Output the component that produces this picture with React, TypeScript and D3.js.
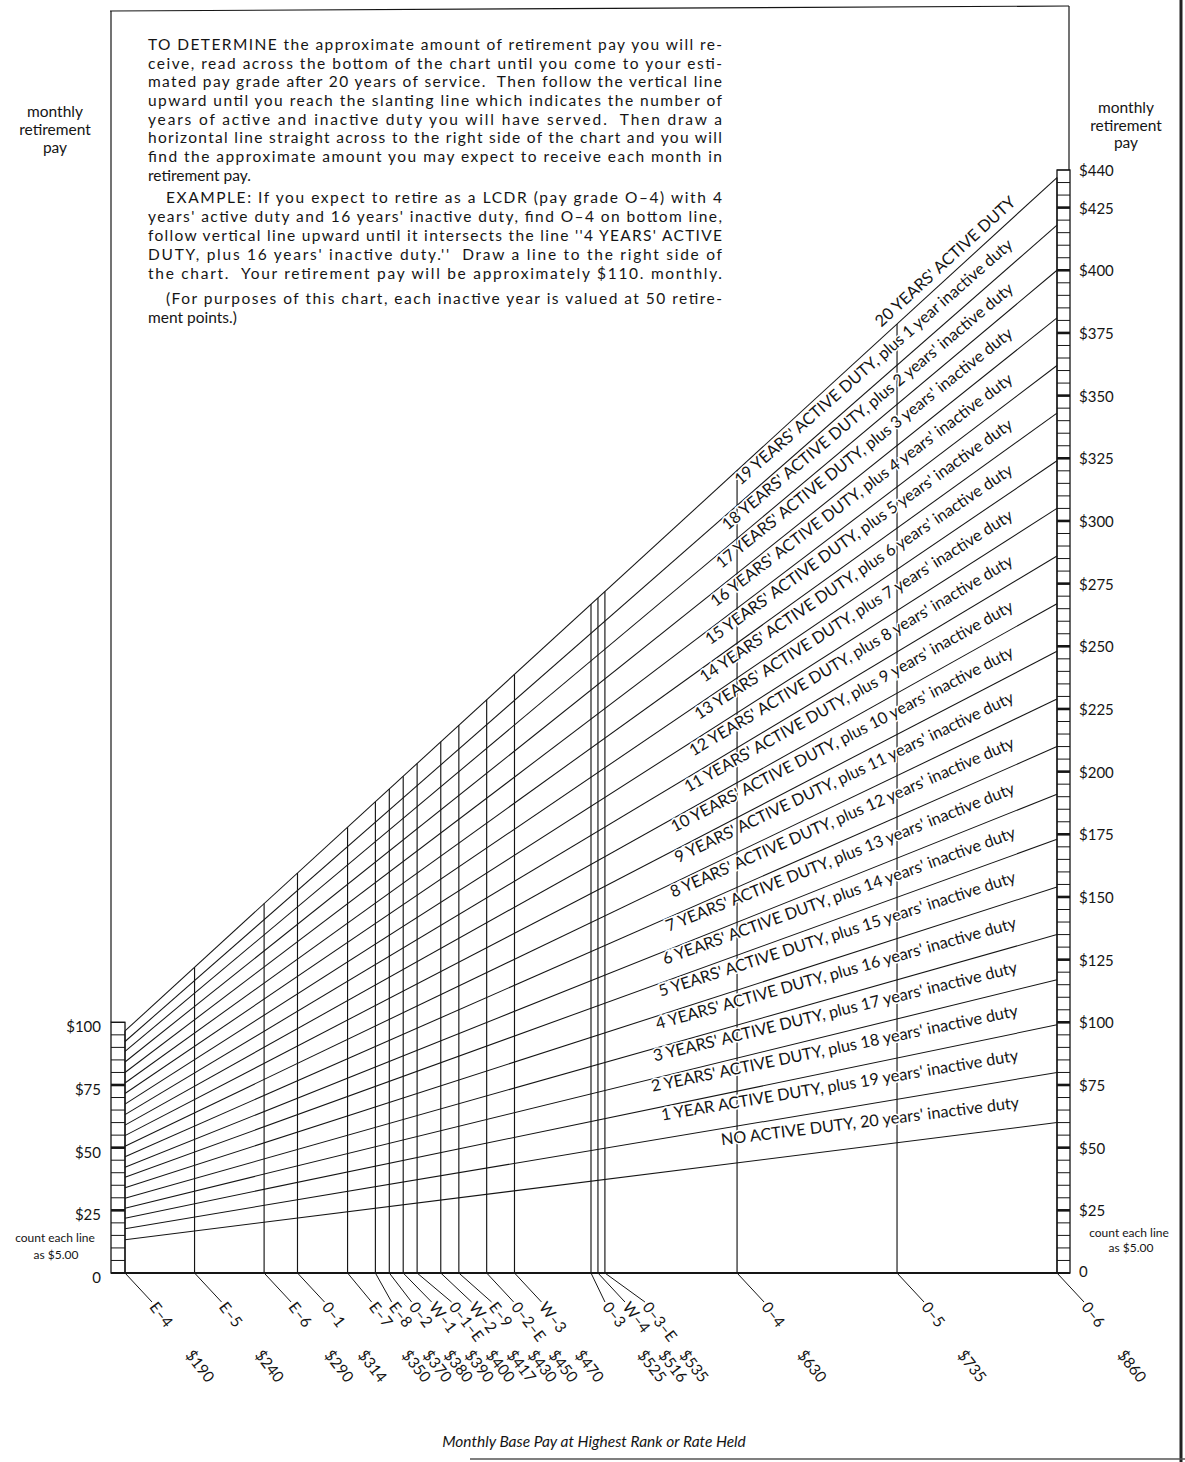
import React from "react";
import * as d3 from "d3";

// ---------- data ----------
const grades = ["E–4", "E–5", "E–6", "0–1", "E–7", "E–8", "0–2", "W–1", "0–1–E", "W–2", "E–9", "0–2–E", "W–3", "0–3", "W–4", "0–3–E", "0–4", "0–5", "0–6"];
const payLabels = ["$190", "$240", "$290", "$314", "$350", "$370", "$380", "$390", "$400", "$417", "$430", "$450", "$470", "$525", "$516", "$535", "$630", "$735", "$860"];
// base pay position of each grade line
const gradePay = [190, 240, 290, 314, 350, 370, 380, 390, 400, 417, 430, 450, 470, 525, 530, 535, 630, 745, 860];

// years of active duty for each slanting line (rest of 20 years inactive)
const activeYears = [0, 1, 2, 3, 4, 5, 6, 7, 8, 9, 10, 11, 12, 13, 14, 15, 16, 17, 18, 19, 20];
// monthly retirement pay read at the right edge ($860 base pay)
const payAtTopBase = [60, 80, 99, 117, 135, 154, 173, 191, 210, 229, 248, 267, 286, 305, 324, 343, 362, 381, 400, 418, 437];
const lineLabels = [
  "NO ACTIVE DUTY, 20 years' inactive duty",
  "1 YEAR ACTIVE DUTY, plus 19 years' inactive duty",
  "2 YEARS' ACTIVE DUTY, plus 18 years' inactive duty",
  "3 YEARS' ACTIVE DUTY, plus 17 years' inactive duty",
  "4 YEARS' ACTIVE DUTY, plus 16 years' inactive duty",
  "5 YEARS' ACTIVE DUTY, plus 15 years' inactive duty",
  "6 YEARS' ACTIVE DUTY, plus 14 years' inactive duty",
  "7 YEARS' ACTIVE DUTY, plus 13 years' inactive duty",
  "8 YEARS' ACTIVE DUTY, plus 12 years' inactive duty",
  "9 YEARS' ACTIVE DUTY, plus 11 years' inactive duty",
  "10 YEARS' ACTIVE DUTY, plus 10 years' inactive duty",
  "11 YEARS' ACTIVE DUTY, plus 9 years' inactive duty",
  "12 YEARS' ACTIVE DUTY, plus 8 years' inactive duty",
  "13 YEARS' ACTIVE DUTY, plus 7 years' inactive duty",
  "14 YEARS' ACTIVE DUTY, plus 6 years' inactive duty",
  "15 YEARS' ACTIVE DUTY, plus 5 years' inactive duty",
  "16 YEARS' ACTIVE DUTY, plus 4 years' inactive duty",
  "17 YEARS' ACTIVE DUTY, plus 3 years' inactive duty",
  "18 YEARS' ACTIVE DUTY, plus 2 years' inactive duty",
  "19 YEARS' ACTIVE DUTY, plus 1 year inactive duty",
  "20 YEARS' ACTIVE DUTY",
];

const leftTicks = [0, 25, 50, 75, 100];
const leftTickLabels = ["0", "$25", "$50", "$75", "$100"];
const rightTicks = [0, 25, 50, 75, 100, 125, 150, 175, 200, 225, 250, 275, 300, 325, 350, 375, 400, 425, 440];
const rightTickLabels = ["0", "$25", "$50", "$75", "$100", "$125", "$150", "$175", "$200", "$225", "$250", "$275", "$300", "$325", "$350", "$375", "$400", "$425", "$440"];

const instructionLines = [
  { t: "TO DETERMINE the approximate amount of retirement pay you will re-", indent: false, justify: true },
  { t: "ceive, read across the bottom of the chart until you come to your esti-", indent: false, justify: true },
  { t: "mated pay grade after 20 years of service.  Then follow the vertical line", indent: false, justify: true },
  { t: "upward until you reach the slanting line which indicates the number of", indent: false, justify: true },
  { t: "years of active and inactive duty you will have served.  Then draw a", indent: false, justify: true },
  { t: "horizontal line straight across to the right side of the chart and you will", indent: false, justify: true },
  { t: "find the approximate amount you may expect to receive each month in", indent: false, justify: true },
  { t: "retirement pay.", indent: false, justify: false },
  { t: "EXAMPLE: If you expect to retire as a LCDR (pay grade O–4) with 4", indent: true, justify: true },
  { t: "years' active duty and 16 years' inactive duty, find O–4 on bottom line,", indent: false, justify: true },
  { t: "follow vertical line upward until it intersects the line ''4 YEARS' ACTIVE", indent: false, justify: true },
  { t: "DUTY, plus 16 years' inactive duty.''  Draw a line to the right side of", indent: false, justify: true },
  { t: "the chart.  Your retirement pay will be approximately $110. monthly.", indent: false, justify: true },
  { t: "(For purposes of this chart, each inactive year is valued at 50 retire-", indent: true, justify: true },
  { t: "ment points.)", indent: false, justify: false },
];
const instructionBaselines = [49.5, 68.5, 87, 106, 124.5, 143, 162, 180.5, 203, 222, 241, 260, 278.5, 304, 323];

// ---------- helpers ----------
function relax(ideal: number[], minGap: number): number[] {
  const p = ideal.slice();
  for (let it = 0; it < 500; it++) {
    let moved = false;
    for (let i = 1; i < p.length; i++) {
      const d = p[i] - p[i - 1];
      if (d < minGap - 0.01) {
        const s = (minGap - d) / 2;
        p[i - 1] -= s;
        p[i] += s;
        moved = true;
      }
    }
    if (!moved) break;
  }
  return p;
}

const FONT = "Lato, 'Noto Sans', 'DejaVu Sans', sans-serif";
const INK = "#151515";

export default function App() {
  const W = 1185;
  const H = 1462;
  const x = d3.scaleLinear().domain([190, 860]).range([125, 1057]);
  const y = d3.scaleLinear().domain([0, 440]).range([1273, 170]);
  const pMin = gradePay[0];
  const pMax = gradePay[gradePay.length - 1];
  const valueAt = (i: number, p: number) => (payAtTopBase[i] * p) / pMax;
  const line = d3.line<[number, number]>().x((d) => x(d[0])).y((d) => y(d[1]));
  const topIdx = activeYears.length - 1;

  const boxL = { x0: 111, x1: 125 };
  const boxR = { x0: 1057, x1: 1070 };

  const gradeLabelX = relax(gradePay.map((p) => x(p) + 27), 20);
  const payLabelX = relax(gradePay.map((p) => x(p) + 64), 21);

  const leftCells = d3.range(0, 101, 5);
  const rightCells = d3.range(0, 441, 5);

  const labelEndX = 1022;
  const labelEndPay = x.invert(labelEndX);
  const labelFont = 16.3;

  return (
    <svg width={W} height={H} viewBox={`0 0 ${W} ${H}`} style={{ position: "absolute", left: 0, top: 0, background: "#fff" }} fontFamily={FONT}>
      <rect x={0} y={0} width={W} height={H} fill="#fff" />
      {/* frame */}
      <path d={`M110,11 L1069,6`} stroke={INK} strokeWidth={1.2} fill="none" />
      <line x1={111} y1={11} x2={111} y2={y(100)} stroke={INK} strokeWidth={1.2} />
      <line x1={1069} y1={6} x2={1069} y2={y(440)} stroke={INK} strokeWidth={1.2} />
      <line x1={1181} y1={0} x2={1181} y2={H} stroke="#222" strokeWidth={3} />
      <line x1={470} y1={1459} x2={W} y2={1459} stroke="#555" strokeWidth={1.5} />

      {/* instructions */}
      <g fontSize={15.5} fill={INK}>
        {instructionLines.map((l, i) => {
          const x0 = l.indent ? 166 : 148;
          return (
            <text key={i} x={x0} y={instructionBaselines[i]} {...(l.justify ? { textLength: 722 - x0, lengthAdjust: "spacing" } : {})} style={{ whiteSpace: "pre" }}>
              {l.t}
            </text>
          );
        })}
      </g>

      {/* axis titles */}
      <g fontSize={15.5} fill={INK} textAnchor="middle">
        <text x={55} y={117}>monthly</text>
        <text x={55} y={135}>retirement</text>
        <text x={55} y={153}>pay</text>
        <text x={1126} y={113}>monthly</text>
        <text x={1126} y={131}>retirement</text>
        <text x={1126} y={148}>pay</text>
      </g>

      {/* vertical grade lines */}
      {gradePay.map((p, i) => (
        <line key={i} x1={x(p)} x2={x(p)} y1={y(0)} y2={y(valueAt(topIdx, p))} stroke={INK} strokeWidth={1.15} />
      ))}

      {/* slanting lines */}
      {activeYears.map((n, i) => (
        <path key={n} d={line([[pMin, valueAt(i, pMin)], [pMax, valueAt(i, pMax)]]) || ""} stroke={INK} strokeWidth={1.05} fill="none" />
      ))}

      {/* slanting line labels, centred between each line and the next */}
      <g fontSize={labelFont} fill={INK}>
        {activeYears.map((n, i) => {
          const x0 = x(pMin), y0 = y(valueAt(i, pMin));
          const x1 = x(pMax), y1 = y(valueAt(i, pMax));
          const rad = Math.atan2(y1 - y0, x1 - x0);
          const ang = (rad * 180) / Math.PI;
          const px = x(labelEndPay), py = y(valueAt(i, labelEndPay));
          const gapV = i < topIdx
            ? py - y(valueAt(i + 1, labelEndPay))
            : 0.75 * (y(valueAt(i - 1, labelEndPay)) - py);
          const perp = gapV * Math.cos(rad);
          const base = perp / 2 - labelFont * 0.3;
          return (
            <text key={n} transform={`translate(${px},${py}) rotate(${ang})`} x={0} y={-base} textAnchor="end"
              stroke="#fff" strokeWidth={3} paintOrder="stroke" style={{ whiteSpace: "pre" }}>
              {lineLabels[i]}
            </text>
          );
        })}
      </g>

      {/* left scale box */}
      <rect x={boxL.x0} y={y(100)} width={boxL.x1 - boxL.x0} height={y(0) - y(100)} fill="none" stroke={INK} strokeWidth={1.3} />
      {leftCells.map((v) => (
        <line key={v} x1={boxL.x0} x2={boxL.x1} y1={y(v)} y2={y(v)} stroke={INK} strokeWidth={v % 25 === 0 && v > 0 && v < 100 ? 2.6 : 1} />
      ))}
      {/* right scale box */}
      <rect x={boxR.x0} y={y(440)} width={boxR.x1 - boxR.x0} height={y(0) - y(440)} fill="none" stroke={INK} strokeWidth={1.3} />
      {rightCells.map((v) => (
        <line key={v} x1={boxR.x0} x2={boxR.x1} y1={y(v)} y2={y(v)} stroke={INK} strokeWidth={v % 25 === 0 && v > 0 ? 2.6 : 1} />
      ))}

      {/* bottom base line */}
      <line x1={boxL.x0} x2={boxR.x1} y1={y(0)} y2={y(0)} stroke={INK} strokeWidth={2} />

      {/* tick labels */}
      <g fontSize={15} fill={INK}>
        {leftTicks.map((v, i) => (
          <text key={v} x={101} y={y(v) + 4} textAnchor="end" dominantBaseline="central">{leftTickLabels[i]}</text>
        ))}
        {rightTicks.map((v, i) => (
          <text key={v} x={1079} y={y(v) + (v === 0 ? -2 : 0)} textAnchor="start" dominantBaseline="central">{rightTickLabels[i]}</text>
        ))}
      </g>
      <g fontSize={12} fill={INK} textAnchor="middle">
        <text x={55} y={1242}>count each line</text>
        <text x={56} y={1259}>as $5.00</text>
        <text x={1129} y={1237}>count each line</text>
        <text x={1131} y={1252}>as $5.00</text>
      </g>

      {/* grade ticks and labels */}
      <g fontSize={15.5} fill={INK}>
        {gradePay.map((p, i) => {
          const gx = gradeLabelX[i];
          return (
            <g key={i}>
              <line x1={x(p)} y1={y(0)} x2={gx} y2={1302} stroke={INK} strokeWidth={1} />
              <text transform={`translate(${gx + 1},${1304}) rotate(52)`} x={0} y={0} dy="0.35em">{grades[i]}</text>
              <text transform={`translate(${payLabelX[i]},${1352}) rotate(52)`} x={0} y={0} dy="0.35em">{payLabels[i]}</text>
            </g>
          );
        })}
      </g>

      {/* x axis title */}
      <text x={594} y={1447} textAnchor="middle" fontSize={15.5} fontStyle="italic" fill={INK}>
        Monthly Base Pay at Highest Rank or Rate Held
      </text>
    </svg>
  );
}
